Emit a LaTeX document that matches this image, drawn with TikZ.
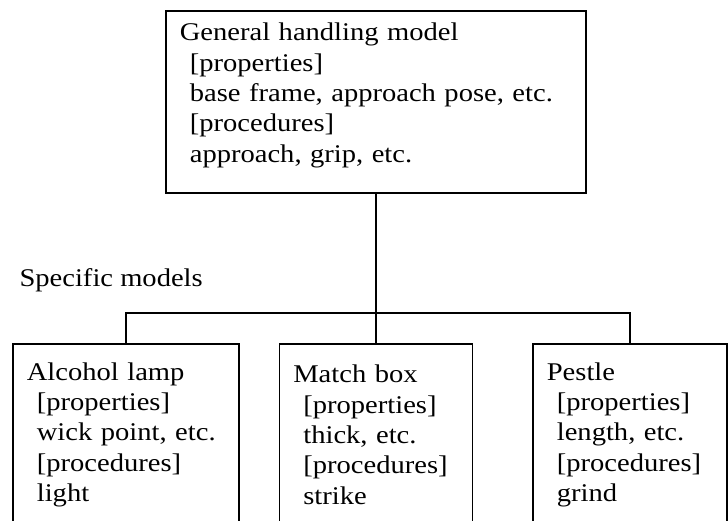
\documentclass[tikz,border=0pt]{standalone}
\usepackage{fontspec}
\setmainfont{Liberation Serif}[FakeStretch=1.12]
\usetikzlibrary{positioning}
\tikzset{
  model/.style={draw=black,line width=1.7pt,align=left,inner xsep=14pt,
    font=\fontsize{25.5}{30.3}\selectfont,anchor=north west,minimum height=182pt},
  link/.style={draw=black,line width=1.7pt},
  tag/.style={font=\fontsize{25.5}{30.3}\selectfont,anchor=west},
}
\newcommand{\ind}{\hspace*{10pt}}

\begin{document}
\begin{tikzpicture}[x=1pt,y=-1pt]
  \useasboundingbox (0,0) rectangle (728,520);
  \clip (0,0) rectangle (728,520);
  % generic model
  \node[model,text width=392pt] (general) at (165,10)
    {General handling model\\ \ind[properties]\\ \ind base frame, approach pose, etc.\\
     \ind[procedures]\\ \ind approach, grip, etc.\\[-12pt]\mbox{}};
  \node[tag] (specific) at (16,280) {Specific models};
  % specific models
  \node[model,text width=198pt] (lamp) at (12,343)
    {Alcohol lamp\\ \ind[properties]\\ \ind wick point, etc.\\ \ind[procedures]\\ \ind light};
  \node[model,text width=165pt] (matchbox) at (278.5,343)
    {Match box\\ \ind[properties]\\ \ind thick, etc.\\ \ind[procedures]\\ \ind strike};
  \node[model,text width=166pt] (pestle) at (532,343)
    {Pestle\\ \ind[properties]\\ \ind length, etc.\\ \ind[procedures]\\ \ind grind};
  \coordinate (bar) at (general.south |- 0,313);
  \draw[link] (general.south) -- (matchbox.north);
  \draw[link] (lamp.north) |- (bar) -| (pestle.north);
\end{tikzpicture}
\end{document}
